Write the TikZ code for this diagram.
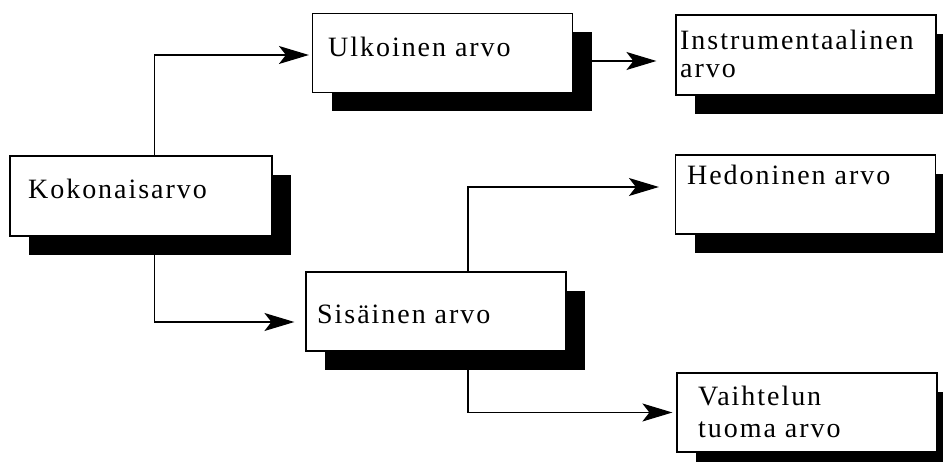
\documentclass[tikz,border=0pt]{standalone}
\usepackage{fontspec}
\setmainfont{Liberation Serif}
\newfontfamily\boxfont[LetterSpace=7]{Liberation Serif}
\usetikzlibrary{arrows.meta,shadows}
\tikzset{
  valuebox/.style={draw=black, line width=1.2pt, fill=white,
    minimum width=260pt, minimum height=79pt, inner sep=0pt,
    drop shadow={shadow xshift=19pt, shadow yshift=-19pt, fill=black, opacity=1}},
  boxtext/.style={anchor=base west, inner sep=0pt, align=left,
    font=\boxfont\fontsize{28pt}{28pt}\selectfont},
  flow/.style={line width=1.2pt, -{Stealth[length=30pt,width=18pt,inset=7pt]}}
}
\begin{document}
\begin{tikzpicture}[x=1pt,y=-1pt]
\useasboundingbox (0,0) rectangle (943,462);

% boxes
\node[valuebox, minimum width=262pt, minimum height=80pt] (K) at (141,196) {};
\node[valuebox] (U) at (442.5,53) {};
\node[valuebox, minimum height=80pt] (I) at (806,55) {};
\node[valuebox] (H) at (805.5,194.5) {};
\node[valuebox] (S) at (436,311.5) {};
\node[valuebox] (V) at (807,412.5) {};

% labels (multi-line labels are anchored on their last baseline)
\node[boxtext] (Kt) at (28,199) {Kokonaisarvo};
\node[boxtext] (Ut) at (328,57) {Ulkoinen arvo};
\node[boxtext] (It) at (680,78) {Instrumentaalinen\\arvo};
\node[boxtext] (Ht) at (687,185) {Hedoninen arvo};
\node[boxtext] (St) at (317,324) {Sisäinen arvo};
\node[boxtext, font=\boxfont\fontsize{28pt}{32pt}\selectfont] (Vt) at (698,437) {Vaihtelun\\tuoma arvo};

% connectors
\draw[flow, shorten >=3pt] ([xshift=145pt]K.north west) |- ([yshift=-2pt]U.west);
\draw[flow, shorten >=11pt] ([xshift=145pt,yshift=-18pt]K.south west) |- ([yshift=-10.5pt]S.west);
\draw[flow, shorten >=19pt] ([xshift=19pt,yshift=-8pt]U.east) -- ([yshift=-8pt]U.east -| I.west);
\draw[flow, shorten >=16pt] ([xshift=32pt]S.north) |- ([yshift=7.5pt]H.west);
\draw[flow, shorten >=4pt] ([xshift=32pt,yshift=-18pt]S.south) |- (V.west);
\end{tikzpicture}
\end{document}
